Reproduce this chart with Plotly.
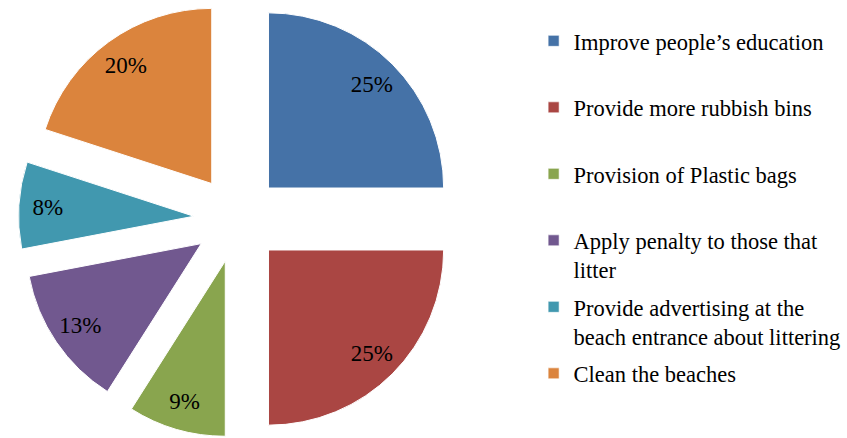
import plotly.graph_objects as go

# Survey responses: suggested measures against beach litter (share of respondents, %)
labels = [
    "Improve people\u2019s education",
    "Provide more rubbish bins",
    "Provision of Plastic bags",
    "Apply penalty to those that<br>litter",
    "Provide advertising at the<br>beach entrance about littering",
    "Clean the beaches",
]
values = [25, 25, 9, 13, 8, 20]
colors = ["#4572A7", "#AA4643", "#89A54E", "#71588F", "#4198AF", "#DB843D"]

FONT = "Liberation Serif, Times New Roman, serif"
PIE_DOMAIN = dict(x=[0.0218, 0.539], y=[0, 1])
PULL = [0.25] * len(values)

fig = go.Figure()

# Exploded pie slices
fig.add_trace(go.Pie(
    labels=labels,
    values=values,
    sort=False,
    direction="clockwise",
    rotation=0,
    pull=PULL,
    marker=dict(colors=colors, line=dict(color="white", width=1)),
    textinfo="none",
    domain=PIE_DOMAIN,
    showlegend=False,
    hoverinfo="label+percent",
))

# Transparent ring over the same slices: carries the percentage labels
# so they sit towards the outer edge of each slice.
fig.add_trace(go.Pie(
    labels=labels,
    values=values,
    sort=False,
    direction="clockwise",
    rotation=0,
    pull=PULL,
    hole=0.67,
    marker=dict(colors=["rgba(0,0,0,0)"] * len(values), line=dict(width=0)),
    textinfo="percent",
    textposition="inside",
    insidetextorientation="horizontal",
    insidetextfont=dict(family=FONT, size=23, color="black"),
    domain=PIE_DOMAIN,
    showlegend=False,
    hoverinfo="skip",
))

# Legend entries: one group per category so entries are evenly spaced;
# single-line names get a blank second line so every entry has equal height.
for lab, col in zip(labels, colors):
    shown = lab if "<br>" in lab else lab + "<br> "
    fig.add_trace(go.Scatter(
        x=[None], y=[None], mode="markers",
        marker=dict(symbol="square", size=11, color=col,
                    line=dict(color="rgba(255,255,255,0.6)", width=1)),
        name=shown, legendgroup=lab, showlegend=True, hoverinfo="skip",
    ))

fig.update_layout(
    width=847, height=438,
    margin=dict(l=0, r=0, t=0, b=0, autoexpand=False),
    paper_bgcolor="white", plot_bgcolor="white",
    font=dict(family=FONT, size=22.5, color="black"),
    xaxis=dict(visible=False), yaxis=dict(visible=False),
    showlegend=True,
    legend=dict(
        x=0.63, xanchor="left", y=0.955, yanchor="top",
        traceorder="grouped", tracegroupgap=5, valign="top",
        font=dict(family=FONT, size=22.5, color="black"),
        bgcolor="rgba(0,0,0,0)", borderwidth=0,
    ),
)

fig.write_html("out.html")
